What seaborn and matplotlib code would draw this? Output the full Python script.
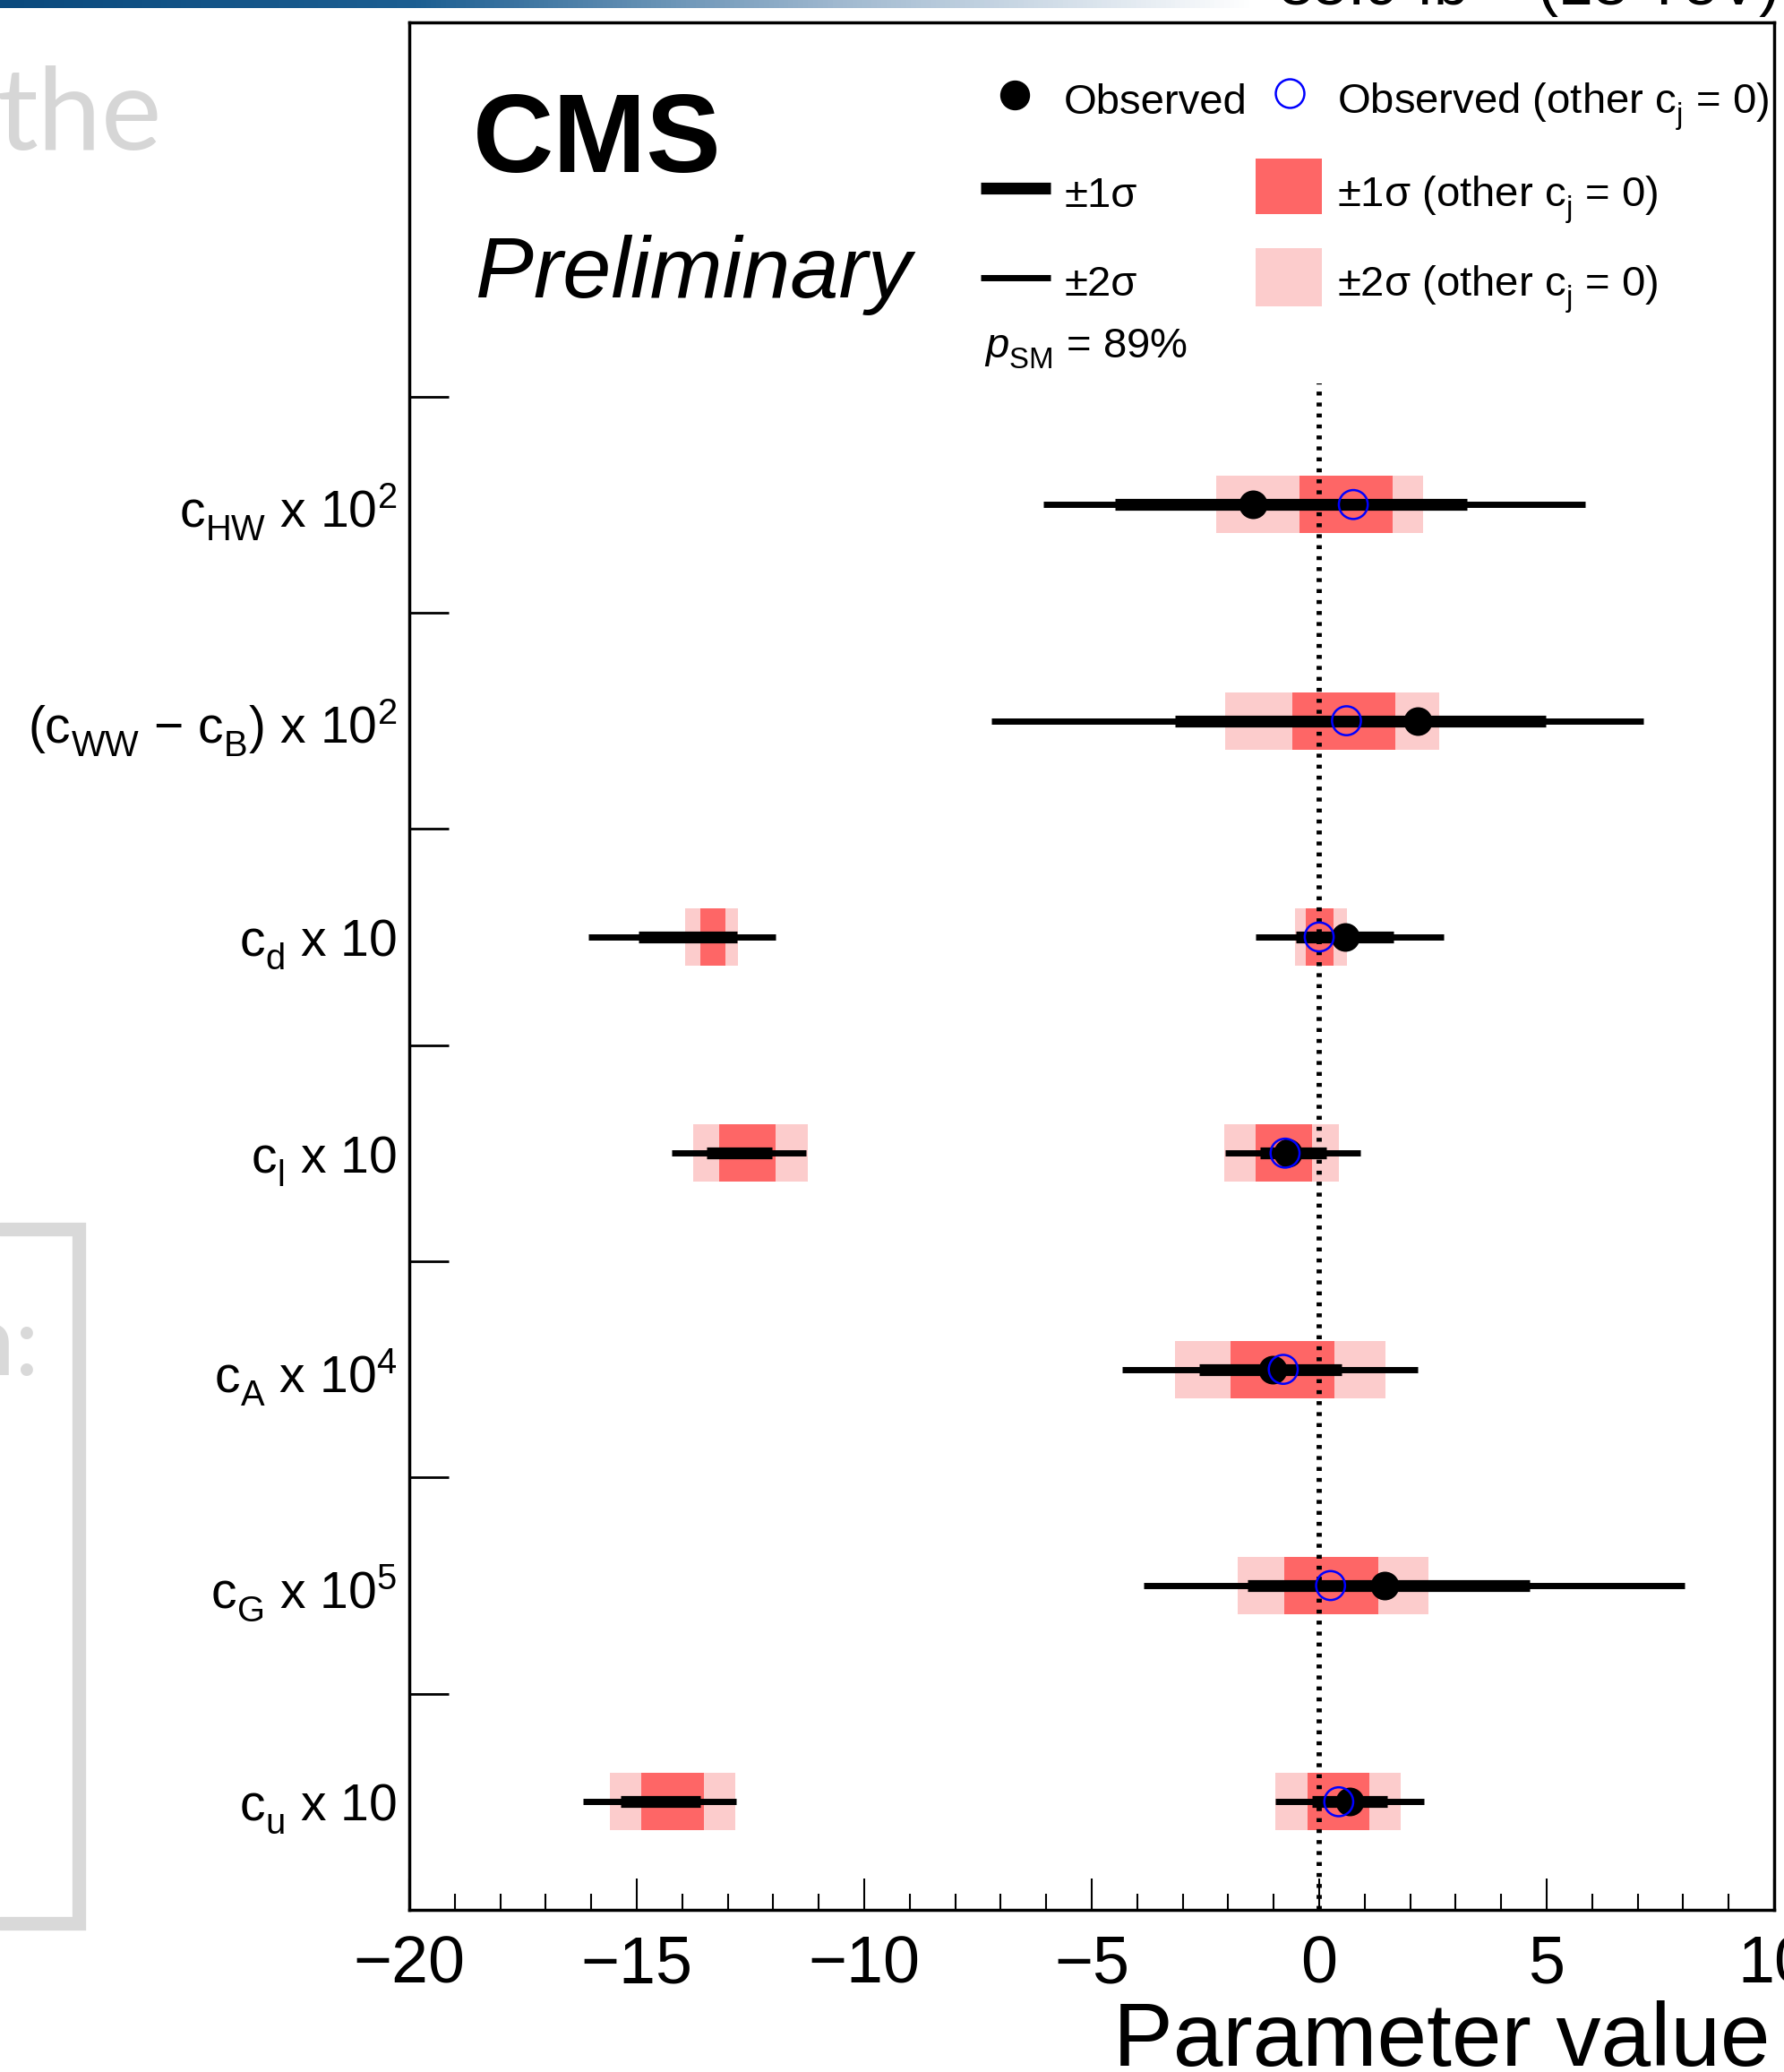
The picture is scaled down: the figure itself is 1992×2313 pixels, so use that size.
import numpy as np
import pandas as pd
import matplotlib
matplotlib.use("Agg")
import matplotlib.pyplot as plt
import seaborn as sns
from matplotlib.lines import Line2D
from matplotlib.patches import Rectangle
from matplotlib.colors import LinearSegmentedColormap

# ROOT-like deeper subscripts
try:
    import matplotlib._mathtext as _mt
    _mt.FontConstantsBase.sub1 = 0.5
except Exception:
    pass

# ---------------- data (rows listed top to bottom) ----------------
params = [
    "c$_{HW}$ x 10$^{2}$",
    "(c$_{WW}$ \u2212 c$_{B}$) x 10$^{2}$",
    "c$_{d}$ x 10",
    "c$_{l}$ x 10",
    "c$_{A}$ x 10$^{4}$",
    "c$_{G}$ x 10$^{5}$",
    "c$_{u}$ x 10",
]
obs = [-1.45, 2.17, 0.58, -0.68, -1.03, 1.43, 0.66]
obs_other = [0.75, 0.60, 0.00, -0.75, -0.79, 0.25, 0.43]

# observed +-1 sigma (thick black) intervals
one_sig_row = [0, 1, 2, 2, 3, 3, 4, 5, 6, 6]
one_sig_lo = [-4.49, -3.17, -14.96, -0.52, -13.47, -1.30, -2.63, -1.57, -15.35, -0.15]
one_sig_hi = [3.25, 4.99, -12.80, 1.63, -12.02, 0.15, 0.50, 4.63, -13.61, 1.49]

# observed +-2 sigma (thin black) intervals
two_sig_row = [0, 1, 2, 2, 3, 3, 4, 5, 6, 6]
two_sig_lo = [-6.06, -7.20, -16.07, -1.39, -14.23, -2.07, -4.34, -3.85, -16.18, -0.97]
two_sig_hi = [5.85, 7.12, -11.94, 2.73, -11.27, 0.91, 2.17, 8.03, -12.81, 2.30]

# +-1 sigma (other c_j = 0) boxes
box1_row = [0, 1, 2, 2, 3, 3, 4, 5, 6, 6]
box1_lo = [-0.43, -0.60, -13.61, -0.29, -13.18, -1.39, -1.94, -0.77, -14.91, -0.25]
box1_hi = [1.61, 1.68, -13.05, 0.31, -11.94, -0.15, 0.33, 1.30, -13.53, 1.10]

# +-2 sigma (other c_j = 0) boxes
box2_row = [0, 1, 2, 2, 3, 3, 4, 5, 6, 6]
box2_lo = [-2.26, -2.07, -13.94, -0.54, -13.76, -2.09, -3.16, -1.80, -15.60, -0.97]
box2_hi = [2.28, 2.63, -12.78, 0.62, -11.25, 0.43, 1.45, 2.40, -12.83, 1.80]

x_ticks = [-20, -15, -10, -5, 0, 5, 10]
p_sm = 89

# ---------------- style ----------------
sns.set_theme(style="white")
plt.rcParams.update({
    "font.family": ["Liberation Sans", "DejaVu Sans"],
    "mathtext.fontset": "custom",
    "mathtext.rm": "Liberation Sans",
    "mathtext.it": "Liberation Sans:italic",
    "mathtext.bf": "Liberation Sans:bold",
    "mathtext.default": "regular",
    "axes.unicode_minus": True,
    "text.color": "black",
    "axes.labelcolor": "black",
    "xtick.color": "black",
    "ytick.color": "black",
    "axes.edgecolor": "black",
})

W, H = 1992, 2313
fig = plt.figure(figsize=(W / 100, H / 100), dpi=100)
AX_L, AX_R, AX_T, AX_B = 457, 1981, 25, 2132
ax = fig.add_axes([AX_L / W, 1 - AX_B / H, (AX_R - AX_L) / W, (AX_B - AX_T) / H])

n = len(params)
Y_TOP = 8.73


def ypos(rows):
    return [n - 0.5 - r for r in rows]


box_h = 0.265
b2 = pd.DataFrame({"y": ypos(box2_row), "lo": box2_lo, "hi": box2_hi})
b1 = pd.DataFrame({"y": ypos(box1_row), "lo": box1_lo, "hi": box1_hi})
s1 = pd.DataFrame({"y": ypos(one_sig_row), "lo": one_sig_lo, "hi": one_sig_hi})
s2 = pd.DataFrame({"y": ypos(two_sig_row), "lo": two_sig_lo, "hi": two_sig_hi})
pts = pd.DataFrame({"y": ypos(range(n)), "obs": obs, "obs_other": obs_other})

c1 = "#fe6666"
c2 = "#fccccc"
ax.barh(b2["y"], b2["hi"] - b2["lo"], left=b2["lo"], height=box_h, color=c2, lw=0, zorder=1)
ax.barh(b1["y"], b1["hi"] - b1["lo"], left=b1["lo"], height=box_h, color=c1, lw=0, zorder=2)

ax.axvline(0, ymin=0, ymax=7.06 / Y_TOP, color="black", lw=4.2,
           ls=(0, (0.75, 1.35)), zorder=3)

lc2 = ax.hlines(s2["y"], s2["lo"], s2["hi"], color="black", lw=5, zorder=4)
lc2.set_capstyle("butt")
lc1 = ax.hlines(s1["y"], s1["lo"], s1["hi"], color="black", lw=9.5, zorder=5)
lc1.set_capstyle("butt")

sns.scatterplot(data=pts, x="obs", y="y", s=530, color="black", linewidth=0,
                zorder=6, ax=ax, legend=False)
sns.scatterplot(data=pts, x="obs_other", y="y", s=540, marker="o",
                facecolors="none", edgecolors="blue", linewidth=1.8,
                zorder=7, ax=ax, legend=False)
coll = ax.collections[-1]
coll.set_facecolor("none")
coll.set_edgecolor("blue")
coll.set_linewidth(1.8)

# ---------------- axes ----------------
ax.set_xlim(-20, 10)
ax.set_ylim(0, Y_TOP)
ax.set_xticks(x_ticks)
ax.set_xticklabels([f"{t:g}".replace("-", "\u2212") for t in x_ticks])
ax.set_xticks(np.arange(-20, 11, 1), minor=True)
ax.set_yticks(ypos(range(n)))
ax.set_yticklabels(params)
ax.set_yticks(np.arange(1, n + 1), minor=True)
ax.tick_params(axis="x", which="major", direction="in", length=25, width=1.5,
               labelsize=53, pad=20, bottom=True, top=False)
ax.tick_params(axis="x", which="minor", direction="in", length=13, width=1.5,
               bottom=True, top=False)
ax.tick_params(axis="y", which="major", length=0, labelsize=41, pad=10, left=True)
ax.tick_params(axis="y", which="minor", direction="in", length=32, width=2,
               left=True, right=False)
for sp in ax.spines.values():
    sp.set_linewidth(2.5)
    sp.set_color("black")
ax.set_ylabel("")
ax.set_xlabel("Parameter value", fontsize=72, loc="right")
ax.xaxis.set_label_coords(0.997, -0.0826)
ax.xaxis.label.set_va("baseline")


def fx(px):
    return (px - AX_L) / (AX_R - AX_L)


def fy(py):
    return (AX_B - py) / (AX_B - AX_T)


T = ax.transAxes
ax.text(fx(528), fy(192), "CMS", fontsize=90, fontweight="bold",
        transform=T, va="baseline", ha="left")
ax.text(fx(531), fy(332), "Preliminary", fontsize=70, style="italic",
        transform=T, va="baseline", ha="left")

# ---------------- legend (drawn by hand to match layout) ----------------
LFS = 34
ax.add_line(Line2D([fx(1133)], [fy(106)], marker="o", ms=23, color="black",
                   ls="none", transform=T))
ax.text(fx(1188), fy(127), "Observed", fontsize=LFS, transform=T, va="baseline")
ax.add_line(Line2D([fx(1440)], [fy(104)], marker="o", ms=23, mfc="none",
                   mec="blue", mew=1.8, ls="none", transform=T))
ax.text(fx(1493), fy(127), "Observed (other c$_{j}$ = 0)", fontsize=LFS,
        transform=T, va="baseline")

ax.add_line(Line2D([fx(1095), fx(1173)], [fy(210), fy(210)], lw=9.5, color="black",
                   solid_capstyle="butt", transform=T))
ax.text(fx(1188), fy(231), "\u00b11\u03c3", fontsize=LFS, transform=T, va="baseline")
ax.add_patch(Rectangle((fx(1402), fy(239)), fx(1476) - fx(1402), fy(177) - fy(239),
                       color=c1, lw=0, transform=T))
ax.text(fx(1493), fy(231), "\u00b11\u03c3 (other c$_{j}$ = 0)", fontsize=LFS,
        transform=T, va="baseline")

ax.add_line(Line2D([fx(1095), fx(1173)], [fy(310), fy(310)], lw=5, color="black",
                   solid_capstyle="butt", transform=T))
ax.text(fx(1188), fy(330), "\u00b12\u03c3", fontsize=LFS, transform=T, va="baseline")
ax.add_patch(Rectangle((fx(1402), fy(342)), fx(1476) - fx(1402), fy(277) - fy(342),
                       color=c2, lw=0, transform=T))
ax.text(fx(1493), fy(330), "\u00b12\u03c3 (other c$_{j}$ = 0)", fontsize=LFS,
        transform=T, va="baseline")

ax.text(fx(1099), fy(400), r"$\mathit{p}_{SM}$" + f" = {p_sm}%", fontsize=LFS,
        transform=T, va="baseline")

# ---------------- slide remnants around the figure ----------------
fig.text(-4 / W, 1 - 167 / H, "the", fontsize=92, color="#d6d6d6",
         family="Lato", fontweight="normal", va="baseline", ha="left")
fig.text(44 / W, 1 - 1535 / H, "n:", fontsize=80, color="#d9d9d9",
         family="Lato", va="baseline", ha="right")
fig.add_artist(Line2D([0, 88 / W, 88 / W, 0],
                      [1 - 1372 / H, 1 - 1372 / H, 1 - 2147 / H, 1 - 2147 / H],
                      color="#d9d9d9", lw=11, solid_joinstyle="miter",
                      transform=fig.transFigure))
fig.text(1985 / W, 1 - 6 / H, "35.9 fb$^{-1}$ (13 TeV)", fontsize=50,
         ha="right", va="baseline")

bar_ax = fig.add_axes([0, 1 - 9 / H, 1400 / W, 9 / H])
grad = np.linspace(0, 1, 256)[None, :]
cmap = LinearSegmentedColormap.from_list("bar", ["#0b4a7d", "#1d5f92", "#9fb8cf", "#ffffff"])
bar_ax.imshow(grad, aspect="auto", cmap=cmap, extent=[0, 1, 0, 1])
bar_ax.set_axis_off()

fig.savefig("out.png", dpi=100)
